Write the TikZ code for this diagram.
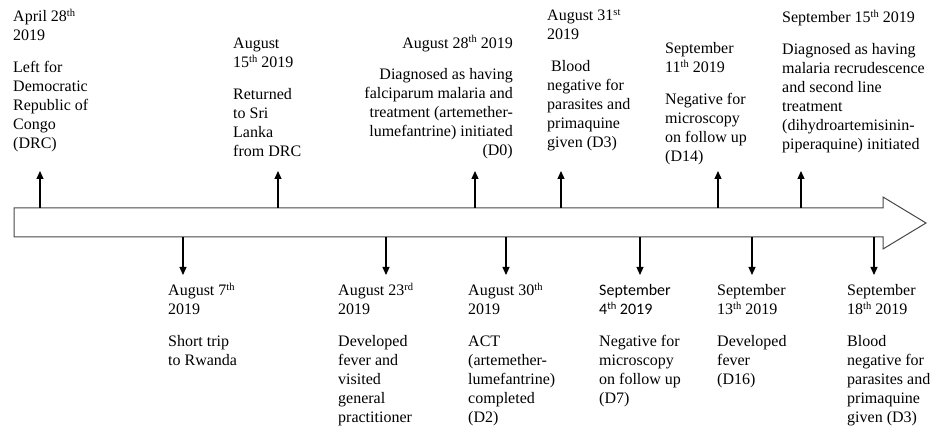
\documentclass[tikz,border=0pt]{standalone}
\usepackage{fontspec}
\setmainfont{Liberation Serif}
\newfontfamily\calfont{Carlito}
\usetikzlibrary{arrows.meta}
\newcommand\ordsup[1]{\raisebox{0.36em}{\fontsize{10.5}{10.5}\selectfont #1}}
\tikzset{
  blk/.style={inner sep=0pt, anchor=base west, font=\fontsize{16}{19}\selectfont, text=black},
  blkr/.style={blk, anchor=base east},
  evt/.style={line width=1.2pt, draw=black, -{Triangle[length=8pt,width=7pt]}},
  tl/.style={draw=black!72, line width=1pt, fill=white},
}
\begin{document}
\begin{tikzpicture}[x=1pt, y=-1pt]
\fill[white] (0,0) rectangle (930,427);
\useasboundingbox (0,0) rectangle (930,427);

% timeline arrow
\draw[tl] (14,208) -- (883,208) -- (883,197) -- (926,223) -- (883,249) -- (883,237) -- (14,237) -- cycle;

% up events: base on timeline and tip
\foreach \n/\x in {1/40, 2/278, 3/475, 4/561, 5/718, 6/801} {
  \coordinate (ub\n) at (\x,208);
  \coordinate (ut\n) at (\x,171);
}
% down events
\foreach \n/\x in {1/183, 2/386, 3/506, 4/640, 5/752, 6/874} {
  \coordinate (db\n) at (\x,237);
  \coordinate (dt\n) at (\x,275);
}
\foreach \n in {1,...,6} {
  \draw[evt] (ub\n) -- (ut\n);
  \draw[evt] (db\n) -- (dt\n);
}

% top texts
\node[blk] (t1) at (13,22) {\begin{tabular}[t]{@{}l@{}}April 28\ordsup{th}\\2019\\[12.5pt]Left for\\Democratic\\Republic of\\Congo\\(DRC)\end{tabular}};
\node[blk] (t2) at (233,49) {\begin{tabular}[t]{@{}l@{}}August\\15\ordsup{th} 2019\\[12.5pt]Returned\\to Sri\\Lanka\\from DRC\end{tabular}};
\node[blkr] (t3) at (513,48.5) {\begin{tabular}[t]{@{}r@{}}August 28\ordsup{th} 2019\\[12.5pt]Diagnosed as having\\falciparum malaria and\\treatment (artemether-\\lumefantrine) initiated\\(D0)\end{tabular}};
\node[blk] (t4) at (547,21) {\begin{tabular}[t]{@{}l@{}}August 31\ordsup{st}\\2019\\[12.5pt]\hspace{4pt}Blood\\negative for\\parasites and\\primaquine\\given (D3)\end{tabular}};
\node[blk] (t5) at (665,54) {\begin{tabular}[t]{@{}l@{}}September\\11\ordsup{th} 2019\\[12.5pt]Negative for\\microscopy\\on follow up\\(D14)\end{tabular}};
\node[blk] (t6) at (782,23) {\begin{tabular}[t]{@{}l@{}}September 15\ordsup{th} 2019\\[12.5pt]Diagnosed as having\\malaria recrudescence\\and second line\\treatment\\(dihydroartemisinin-\\piperaquine) initiated\end{tabular}};

% bottom texts
\node[blk] (b1) at (168,296) {\begin{tabular}[t]{@{}l@{}}August 7\ordsup{th}\\2019\\[12.5pt]Short trip\\to Rwanda\end{tabular}};
\node[blk] (b2) at (338,296) {\begin{tabular}[t]{@{}l@{}}August 23\ordsup{rd}\\2019\\[12.5pt]Developed\\fever and\\visited\\general\\practitioner\end{tabular}};
\node[blk] (b3) at (468,296) {\begin{tabular}[t]{@{}l@{}}August 30\ordsup{th}\\2019\\[12.5pt]ACT\\(artemether-\\lumefantrine)\\completed\\(D2)\end{tabular}};
\node[blk] (b4) at (599,296) {\begin{tabular}[t]{@{}l@{}}{\calfont September}\\{\calfont 4\ordsup{th} 2019}\\[12.5pt]Negative for\\microscopy\\on follow up\\(D7)\end{tabular}};
\node[blk] (b5) at (717,296) {\begin{tabular}[t]{@{}l@{}}September\\13\ordsup{th} 2019\\[12.5pt]Developed\\fever\\(D16)\end{tabular}};
\node[blk] (b6) at (847,296) {\begin{tabular}[t]{@{}l@{}}September\\18\ordsup{th} 2019\\[12.5pt]Blood\\negative for\\parasites and\\primaquine\\given (D3)\end{tabular}};
\end{tikzpicture}
\end{document}
